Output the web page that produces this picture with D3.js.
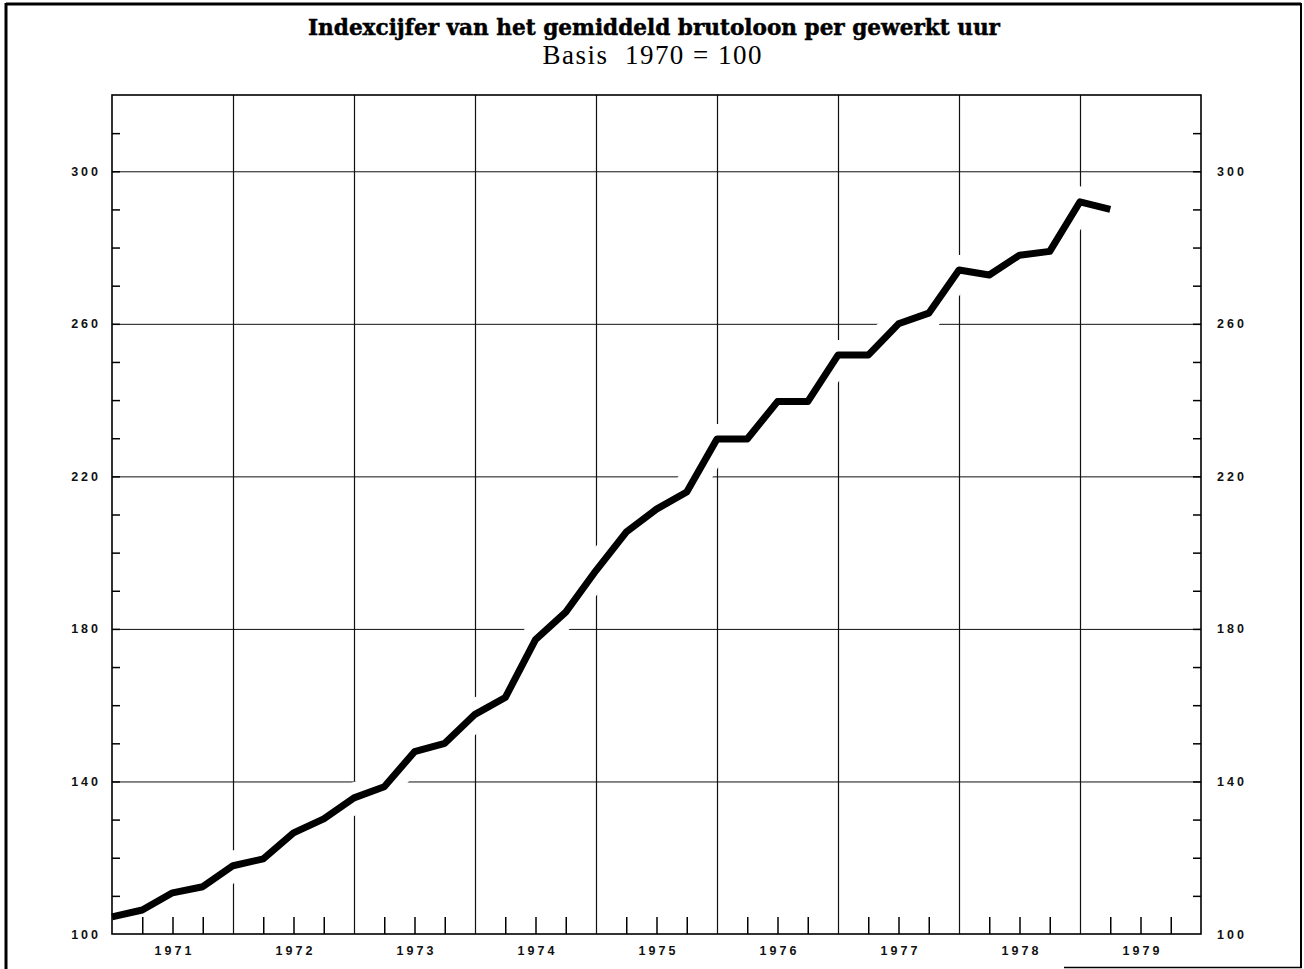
<!DOCTYPE html>
<html>
<head>
<meta charset="utf-8">
<script src="https://cdn.jsdelivr.net/npm/d3@7"></script>
<style>
  body { margin: 0; background: #fff; }
  .tick text { font-family: "Liberation Sans", Arial, sans-serif; font-weight: bold; font-size: 12.5px; letter-spacing: 3px; fill: #111; }
</style>
</head>
<body>
<figure id="chart" style="margin:0"></figure>
<script>
// quarterly index values, 1971 Q1 .. 1979 Q2 (1970 = 100)
const yearLabels = [1971, 1972, 1973, 1974, 1975, 1976, 1977, 1978, 1979];
const indexValues = [
  104.5, 106.3, 110.8, 112.4,
  117.9, 119.7, 126.5, 130.2,
  135.7, 138.6, 147.8, 150.0,
  157.6, 162.0, 177.2, 184.4,
  195.3, 205.4, 211.4, 215.9,
  229.8, 229.8, 239.6, 239.6,
  251.8, 251.8, 260.0, 262.8,
  274.1, 272.8, 278.0, 279.0,
  292.0, 290.0
];
const yLabelTicks = [100, 140, 180, 220, 260, 300];
const yGridTicks = [140, 180, 220, 260, 300];
const yMinorTicks = d3.range(110, 320, 10);

const width = 1304, height = 969;
const plotLeft = 112, plotRight = 1201, plotTop = 95, plotBottom = 934;

const svg = d3.select('figure#chart')
  .append('svg')
  .attr('width', width)
  .attr('height', height);

// quarter index -> x
const x = d3.scaleLinear()
  .domain([0, yearLabels.length * 4])
  .range([plotLeft, plotRight]);
const y = d3.scaleLinear()
  .domain([100, 320])
  .range([plotBottom, plotTop]);

const yearBounds = d3.range(4, yearLabels.length * 4, 4);
const quarterTicks = d3.range(1, yearLabels.length * 4).filter(q => q % 4 !== 0);

// outer border
svg.append('line').attr('x1', 6).attr('x2', 6).attr('y1', 3).attr('y2', height)
  .attr('stroke', '#000').attr('stroke-width', 3);
svg.append('line').attr('x1', 6).attr('x2', 1301).attr('y1', 4).attr('y2', 4)
  .attr('stroke', '#000').attr('stroke-width', 3);
svg.append('line').attr('x1', 1301).attr('x2', 1301).attr('y1', 3).attr('y2', 968)
  .attr('stroke', '#000').attr('stroke-width', 2);
svg.append('line').attr('x1', 1064).attr('x2', 1302).attr('y1', 967.5).attr('y2', 967.5)
  .attr('stroke', '#000').attr('stroke-width', 1.5);

// title
svg.append('text')
  .attr('x', 654).attr('y', 35)
  .attr('text-anchor', 'middle')
  .attr('textLength', 692)
  .attr('lengthAdjust', 'spacingAndGlyphs')
  .style('font-family', '"DejaVu Serif", serif')
  .style('font-weight', 'bold')
  .style('font-size', '22px')
  .style('stroke', '#000')
  .style('stroke-width', 0.5)
  .text('Indexcijfer van het gemiddeld brutoloon per gewerkt uur');
svg.append('text')
  .attr('x', 652).attr('y', 64)
  .attr('text-anchor', 'middle')
  .attr('textLength', 219)
  .attr('lengthAdjust', 'spacing')
  .style('font-family', '"Liberation Serif", serif')
  .style('font-size', '27px')
  .style('white-space', 'pre')
  .text('Basis  1970 = 100');

// grid
svg.append('g')
  .attr('transform', `translate(${plotLeft},0)`)
  .call(d3.axisLeft(y).tickValues(yGridTicks).tickSize(-(plotRight - plotLeft)).tickFormat(''))
  .call(g => g.select('.domain').remove())
  .call(g => g.selectAll('line').attr('stroke', '#111').attr('stroke-width', 1));
svg.append('g')
  .attr('transform', `translate(0,${plotBottom})`)
  .call(d3.axisBottom(x).tickValues(yearBounds).tickSize(-(plotBottom - plotTop)).tickFormat(''))
  .call(g => g.select('.domain').remove())
  .call(g => g.selectAll('line').attr('stroke', '#111').attr('stroke-width', 1.2));

const line = d3.line()
  .x((d, i) => x(i))
  .y(d => y(d));

// white gap round the curve, like the original drawing
svg.append('path')
  .datum(indexValues)
  .attr('d', line)
  .attr('fill', 'none')
  .attr('stroke', '#fff')
  .attr('stroke-width', 30);

// frame and ticks
svg.append('rect')
  .attr('x', plotLeft).attr('y', plotTop)
  .attr('width', plotRight - plotLeft).attr('height', plotBottom - plotTop)
  .attr('fill', 'none').attr('stroke', '#000').attr('stroke-width', 1.6);

svg.append('g')
  .attr('transform', `translate(${plotLeft},0)`)
  .call(d3.axisLeft(y).tickValues(yMinorTicks).tickSize(-8).tickFormat(''))
  .call(g => g.select('.domain').remove())
  .call(g => g.selectAll('line').attr('stroke', '#000').attr('stroke-width', 1.5));
svg.append('g')
  .attr('transform', `translate(${plotRight},0)`)
  .call(d3.axisRight(y).tickValues(yMinorTicks).tickSize(-8).tickFormat(''))
  .call(g => g.select('.domain').remove())
  .call(g => g.selectAll('line').attr('stroke', '#000').attr('stroke-width', 1.5));

svg.append('g')
  .attr('transform', `translate(${plotLeft},0)`)
  .call(d3.axisLeft(y).tickValues(yLabelTicks).tickSize(0).tickPadding(11))
  .call(g => g.select('.domain').remove());
svg.append('g')
  .attr('transform', `translate(${plotRight},0)`)
  .call(d3.axisRight(y).tickValues(yLabelTicks).tickSize(0).tickPadding(16))
  .call(g => g.select('.domain').remove());

svg.append('g')
  .attr('transform', `translate(0,${plotBottom})`)
  .call(d3.axisBottom(x).tickValues(quarterTicks).tickSize(-17).tickFormat(''))
  .call(g => g.select('.domain').remove())
  .call(g => g.selectAll('line').attr('stroke', '#000').attr('stroke-width', 1.5));
svg.append('g')
  .attr('transform', `translate(0,${plotBottom})`)
  .call(d3.axisBottom(x).tickValues(yearLabels.map((yr, i) => i * 4 + 2)).tickSize(0).tickPadding(12)
    .tickFormat(q => yearLabels[Math.round((q - 2) / 4)]))
  .call(g => g.select('.domain').remove())
  .call(g => g.selectAll('text').attr('dx', '1.5px'));

// the index line
svg.append('path')
  .datum(indexValues)
  .attr('d', line)
  .attr('fill', 'none')
  .attr('stroke', '#000')
  .attr('stroke-width', 7)
  .attr('stroke-linejoin', 'round');
</script>
</body>
</html>
